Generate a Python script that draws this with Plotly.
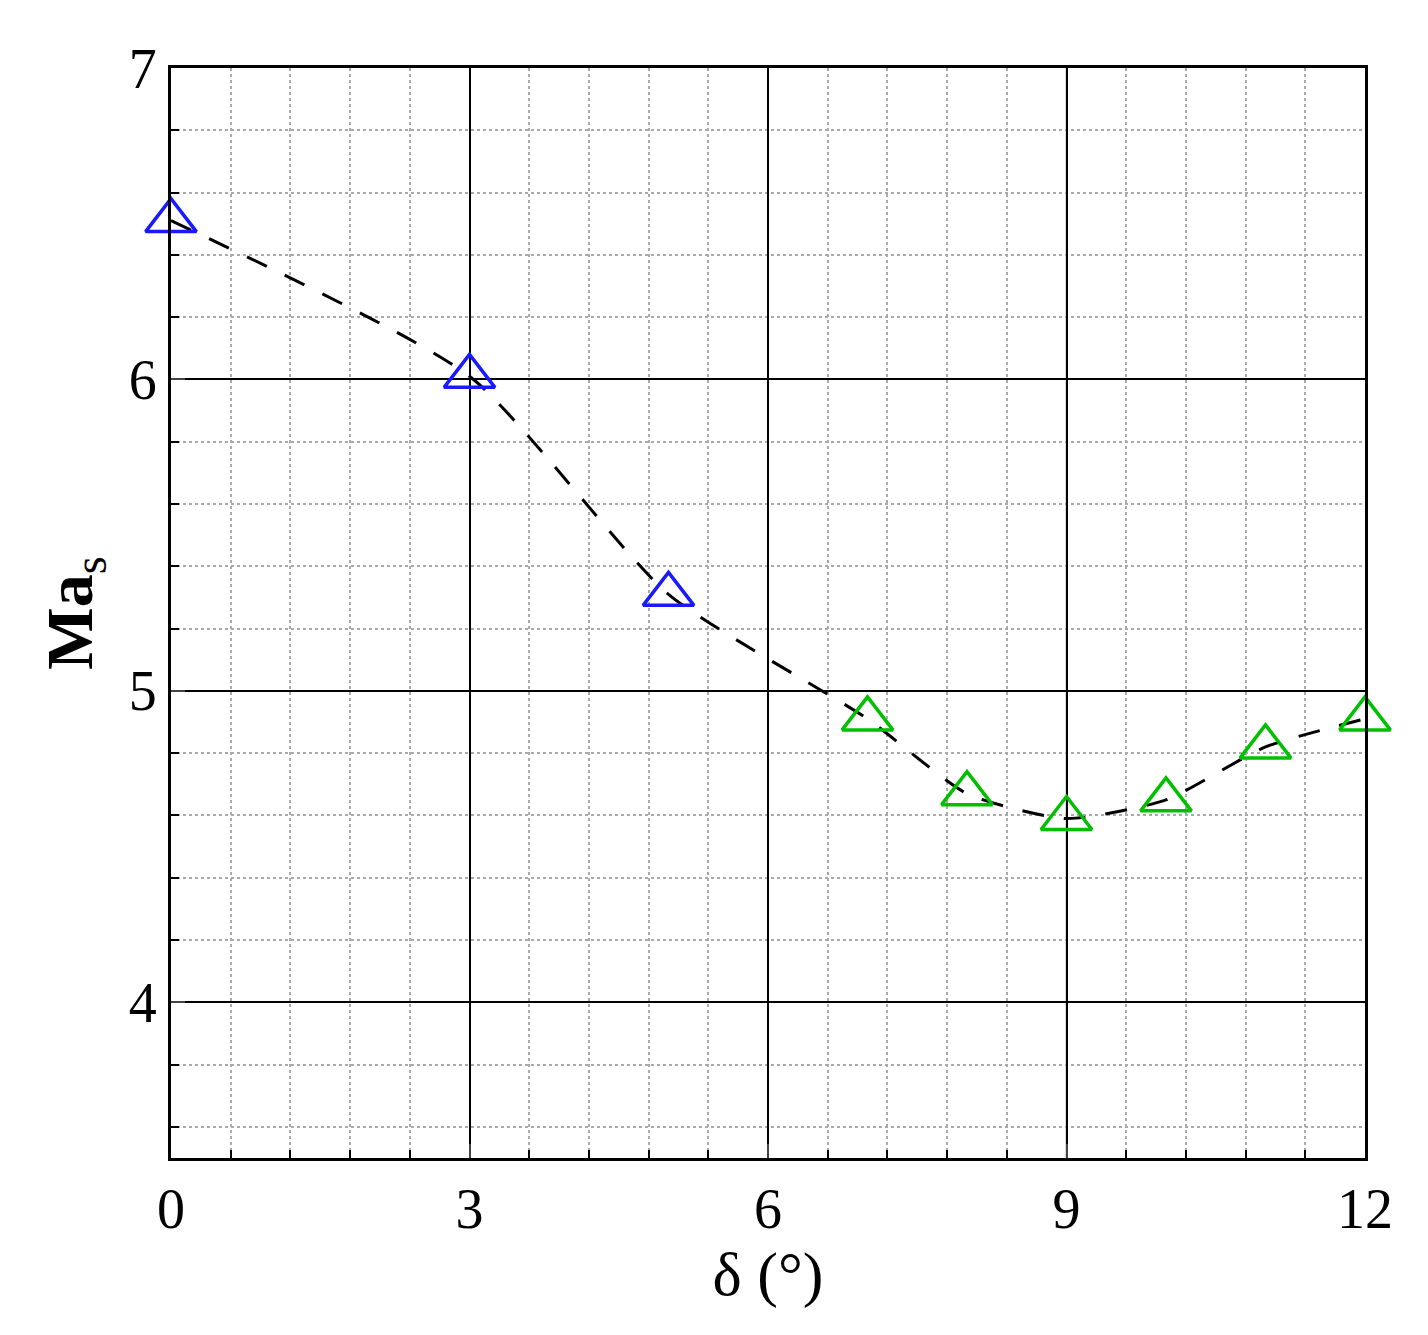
import plotly.graph_objects as go

delta_blue = [0, 3, 5]
mas_blue = [6.51, 6.01, 5.31]
delta_green = [7, 8, 9, 10, 11, 12]
mas_green = [4.91, 4.67, 4.59, 4.65, 4.82, 4.91]

fig = go.Figure()
fig.add_trace(go.Scatter(x=delta_blue + delta_green, y=mas_blue + mas_green, mode="lines",
                         line=dict(color="black", width=3, dash="22px,20px", shape="spline", smoothing=0.6),
                         showlegend=False, cliponaxis=False))
fig.add_trace(go.Scatter(x=delta_blue, y=mas_blue, mode="markers", cliponaxis=False,
                         marker=dict(symbol="triangle-up-open", size=44, color="#1a1aff", line=dict(width=3.5)),
                         showlegend=False))
fig.add_trace(go.Scatter(x=delta_green, y=mas_green, mode="markers", cliponaxis=False,
                         marker=dict(symbol="triangle-up-open", size=44, color="#00c000", line=dict(width=3.5)),
                         showlegend=False))
fig.add_shape(type="line", x0=9, x1=9, y0=3.5, y1=7, xref="x", yref="y", layer="below",
              line=dict(color="#bbbbbb", width=2))

font = dict(family="Liberation Serif", size=56, color="black")
fig.update_layout(
    width=1428, height=1335, margin=dict(l=163, r=71, t=60, b=185),
    plot_bgcolor="white", paper_bgcolor="white", font=font,
    xaxis=dict(range=[0, 12], tickvals=[0, 3, 6, 9, 12], showgrid=True, gridcolor="black", gridwidth=1.5,
               ticks="inside", ticklen=14, tickwidth=2, showline=True, linecolor="black", linewidth=3,
               mirror=True, zeroline=False,
               minor=dict(dtick=0.6, showgrid=True, gridcolor="#aaaaaa", griddash="dot", gridwidth=1.5,
                          ticks="inside", ticklen=8, tickwidth=2, tickcolor="black"),
               title=dict(text="δ (°)", font=dict(family="Liberation Serif", size=62), standoff=5)),
    yaxis=dict(range=[3.5, 7], tickvals=[4, 5, 6, 7], showgrid=True, gridcolor="black", gridwidth=1.5,
               ticks="inside", ticklen=14, tickwidth=2, showline=True, linecolor="black", linewidth=3,
               mirror=True, zeroline=False,
               minor=dict(dtick=0.2, showgrid=True, gridcolor="#aaaaaa", griddash="dot", gridwidth=1.5,
                          ticks="inside", ticklen=8, tickwidth=2, tickcolor="black"),
               title=dict(text="<b>Ma</b><sub>s</sub>", font=dict(family="Liberation Serif", size=66), standoff=15)),
)
fig.write_html("out.html")
